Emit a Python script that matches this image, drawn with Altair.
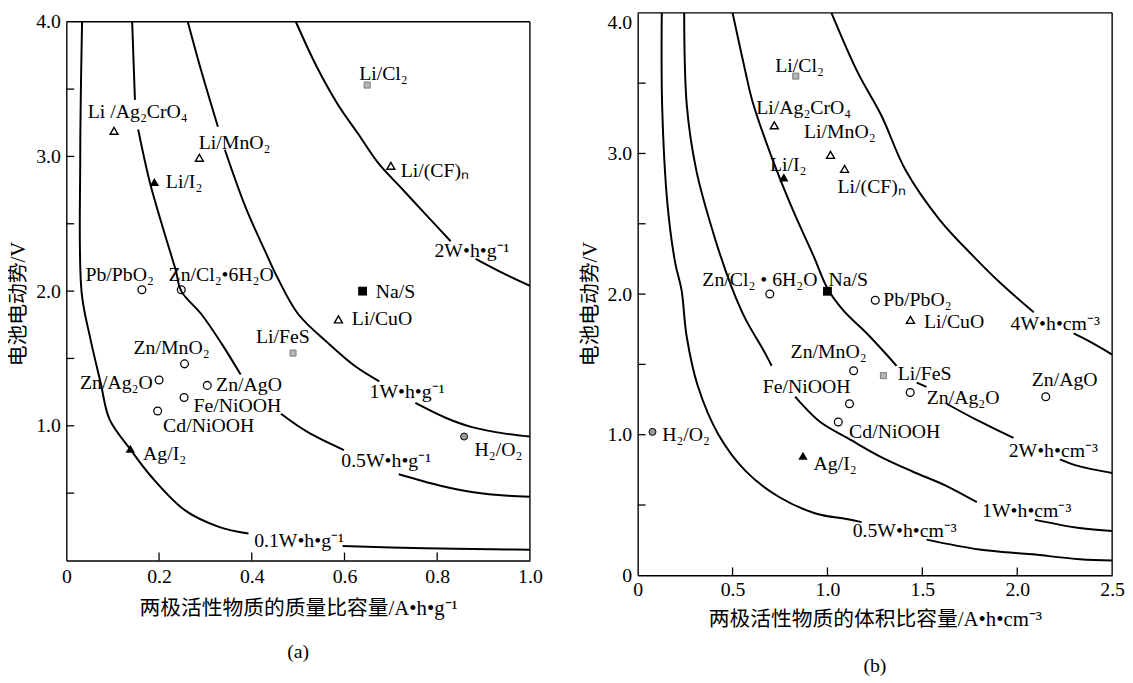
import altair as alt
import pandas as pd

SERIF = "Liberation Serif"
CJK = "Liberation Serif, Noto Sans CJK SC"

# ---------------- panel (a): mass specific capacity ----------------
a_cell = ["Li/Cl₂", "Li /Ag₂CrO₄", "Li/MnO₂", "Li/I₂", "Li/(CF)ₙ", "Pb/PbO₂", "Zn/Cl₂•6H₂O",
          "Na/S", "Li/CuO", "Li/FeS", "Zn/MnO₂", "Zn/Ag₂O", "Zn/AgO", "Fe/NiOOH", "Cd/NiOOH",
          "Ag/I₂", "H₂/O₂"]
a_kind = ["sq_gray", "tri_open", "tri_open", "tri_fill", "tri_open", "circ_open", "circ_open",
          "sq_fill", "tri_open", "sq_gray", "circ_open", "circ_open", "circ_open", "circ_open",
          "circ_open", "tri_fill", "circ_gray"]
a_cap = [0.649, 0.103, 0.287, 0.19, 0.70, 0.163, 0.248, 0.639, 0.587, 0.489, 0.255, 0.20,
         0.304, 0.254, 0.197, 0.138, 0.858]
a_emf = [3.53, 3.19, 2.99, 2.81, 2.93, 2.01, 2.01, 2.0, 1.79, 1.54, 1.46, 1.34, 1.30, 1.21,
         1.11, 0.83, 0.92]
a_lab_x = [0.684, 0.154, 0.363, 0.254, 0.795, 0.115, 0.334, 0.71, 0.681, 0.467, 0.227, 0.108,
           0.394, 0.369, 0.307, 0.212, 0.932]
a_lab_y = [3.61, 3.33, 3.10, 2.81, 2.89, 2.12, 2.12, 1.99, 1.79, 1.66, 1.58, 1.32, 1.30, 1.15,
           1.0, 0.79, 0.82]

a_e01_x = [0.034, 0.030, 0.033, 0.051, 0.074, 0.093, 0.137, 0.184, 0.257, 0.329, 0.393,
           0.596, 0.773, 0.955, 1.0]
a_e01_y = [4.0, 2.98, 1.99, 1.66, 1.32, 1.05, 0.83, 0.62, 0.37, 0.25, 0.20,
           0.107, 0.091, 0.082, 0.08]
a_e01_seg = [1] * 11 + [2] * 4

a_e05_x = [0.142, 0.148, 0.155, 0.18, 0.21, 0.236, 0.248, 0.291, 0.335, 0.376,
           0.463, 0.52, 0.599, 0.717, 0.807, 0.878, 0.953, 1.0]
a_e05_y = [4.0, 3.42, 3.20, 2.81, 2.45, 2.155, 2.0, 1.83, 1.61, 1.38,
           1.09, 0.955, 0.82, 0.64, 0.555, 0.507, 0.48, 0.473]
a_e05_seg = [1] * 2 + [2] * 8 + [3] * 3 + [4] * 5

a_e1_x = [0.262, 0.289, 0.327, 0.342, 0.387, 0.431, 0.454, 0.50, 0.566, 0.624, 0.675,
          0.753, 0.818, 0.875, 0.95, 1.0]
a_e1_y = [4.0, 3.66, 3.22, 3.05, 2.62, 2.28, 2.11, 1.83, 1.61, 1.44, 1.33,
          1.17, 1.06, 0.99, 0.94, 0.92]
a_e1_seg = [1] * 3 + [2] * 8 + [3] * 5

a_e2_x = [0.495, 0.541, 0.585, 0.629, 0.673, 0.724, 0.775, 0.829, 0.883, 0.944, 1.0]
a_e2_y = [4.0, 3.66, 3.39, 3.17, 2.95, 2.76, 2.57, 2.37, 2.24, 2.13, 2.04]
a_e2_seg = [1] * 8 + [2] * 3

a_curve_lab = ["0.1W•h•g⁻¹", "0.5W•h•g⁻¹", "1W•h•g⁻¹", "2W•h•g⁻¹"]
a_curve_lab_x = [0.502, 0.69, 0.735, 0.875]
a_curve_lab_y = [0.146, 0.737, 1.25, 2.30]

a_xticks = [0, 0.2, 0.4, 0.6, 0.8, 1.0]
a_yticks = [1.0, 2.0, 3.0, 4.0]
a_xminor = [0.2, 0.4, 0.6, 0.8]
a_yminor = [0.5, 1.0, 1.5, 2.0, 2.5, 3.0, 3.5]

# ---------------- panel (b): volume specific capacity ----------------
b_cell = ["Li/Cl₂", "Li/Ag₂CrO₄", "Li/MnO₂", "Li/I₂", "Li/(CF)ₙ", "Zn/Cl₂ • 6H₂O", "Na/S",
          "Pb/PbO₂", "Li/CuO", "Zn/MnO₂", "Li/FeS", "Fe/NiOOH", "Zn/Ag₂O", "Zn/AgO",
          "Cd/NiOOH", "H₂/O₂", "Ag/I₂"]
b_kind = ["sq_gray", "tri_open", "tri_open", "tri_fill", "tri_open", "circ_open", "sq_fill",
          "circ_open", "tri_open", "circ_open", "sq_gray", "circ_open", "circ_open", "circ_open",
          "circ_open", "circ_gray", "tri_fill"]
b_cap = [0.833, 0.72, 1.016, 0.77, 1.09, 0.696, 1.0, 1.252, 1.437, 1.138, 1.295, 1.116, 1.436,
         2.15, 1.057, 0.078, 0.871]
b_emf = [3.55, 3.20, 2.99, 2.83, 2.89, 2.0, 2.02, 1.956, 1.816, 1.455, 1.42, 1.22, 1.30, 1.27,
         1.09, 1.02, 0.85]
b_lab_x = [0.853, 0.875, 1.065, 0.793, 1.233, 0.644, 1.11, 1.474, 1.667, 1.006, 1.512, 0.89,
           1.715, 2.25, 1.354, 0.255, 1.04]
b_lab_y = [3.62, 3.32, 3.15, 2.92, 2.76, 2.10, 2.10, 1.956, 1.80, 1.59, 1.43, 1.34, 1.26,
           1.385, 1.02, 1.0, 0.79]

b_e05_x = [0.127, 0.129, 0.157, 0.198, 0.231, 0.258, 0.316, 0.426, 0.568, 0.745, 0.9375, 1.10,
           1.18, 1.522, 1.80, 2.077, 2.33, 2.5]
b_e05_y = [4.0, 3.34, 2.64, 2.22, 2.03, 1.70, 1.35, 1.0, 0.743, 0.557, 0.44, 0.40,
           0.378, 0.254, 0.184, 0.149, 0.114, 0.105]
b_e05_seg = [1] * 13 + [2] * 5

b_e1_x = [0.245, 0.259, 0.309, 0.404, 0.495, 0.569, 0.659, 0.706,
          0.83, 0.856, 0.962, 1.12, 1.27, 1.445, 1.62, 1.787, 2.093, 2.328, 2.5]
b_e1_y = [4.0, 3.34, 2.88, 2.41, 2.05, 1.82, 1.61, 1.49,
          1.27, 1.23, 1.09, 0.965, 0.85, 0.74, 0.64, 0.52, 0.394, 0.336, 0.315]
b_e1_seg = [1] * 8 + [2] * 8 + [3] * 3

b_e2_x = [0.50, 0.568, 0.605, 0.707, 0.817, 0.927, 1.0, 1.08, 1.222, 1.364,
          1.47, 1.522, 1.628, 1.786, 1.98, 2.225, 2.32, 2.5]
b_e2_y = [4.0, 3.58, 3.37, 2.97, 2.60, 2.27, 2.04, 1.89, 1.70, 1.49,
          1.37, 1.34, 1.22, 1.105, 0.977, 0.825, 0.778, 0.727]
b_e2_seg = [1] * 10 + [2] * 2 + [3] * 3 + [4] * 3

b_e4_x = [1.021, 1.158, 1.284, 1.412, 1.59, 1.768, 1.91, 2.087, 2.297, 2.385, 2.5]
b_e4_y = [4.0, 3.58, 3.27, 2.88, 2.53, 2.27, 2.08, 1.87, 1.72, 1.66, 1.57]
b_e4_seg = [1] * 8 + [2] * 3

b_curve_lab = ["0.5W•h•cm⁻³", "1W•h•cm⁻³", "2W•h•cm⁻³", "4W•h•cm⁻³"]
b_curve_lab_x = [1.407, 2.05, 2.19, 2.20]
b_curve_lab_y = [0.315, 0.455, 0.88, 1.79]

b_xticks = [0, 0.5, 1.0, 1.5, 2.0, 2.5]
b_yticks = [0, 1.0, 2.0, 3.0, 4.0]
b_xminor = [0.5, 1.0, 1.5, 2.0]
b_yminor = [0.5, 1.0, 1.5, 2.0, 2.5, 3.0, 3.5]


def curves_frame(curves):
    rows = []
    for name, xs, ys, segs in curves:
        for i, (x, y, s) in enumerate(zip(xs, ys, segs)):
            rows.append({"key": f"{name}-{s}", "i": i, "x": x, "y": y})
    return pd.DataFrame(rows)


MARKS = {
    "tri_open": dict(shape="triangle-up", filled=False, color="black", strokeWidth=1.4, size=65, opacity=1),
    "tri_fill": dict(shape="triangle-up", filled=True, color="black", size=90, opacity=1),
    "circ_open": dict(shape="circle", filled=False, color="black", strokeWidth=1.3, size=62, opacity=1),
    "sq_fill": dict(shape="square", filled=True, color="black", size=80, opacity=1),
    "sq_gray": dict(shape="square", filled=True, fill="#b5b5b5", stroke="#666666", strokeWidth=0.8, size=38, opacity=1),
    "circ_gray": dict(shape="circle", filled=True, fill="#9a9a9a", stroke="black", strokeWidth=1, size=50, opacity=1),
}

LABEL_EXPR = "datum.value == 0 ? '0' : format(datum.value, '.1f')"


def panel(pts, crv, clab, xdom, w, h, top_gap, xvals, yvals, xminor, yminor, xtitle, caption,
          x_lp, x_tp, cap_off, title_y, top_flush):
    xs = alt.Scale(domain=xdom, nice=False, zero=False)
    ys = alt.Scale(domain=[0, 4], range=[h, top_gap], nice=False, zero=False)
    xaxis = alt.Axis(values=xvals, title=xtitle, labelExpr=LABEL_EXPR, ticks=False, tickSize=0,
                     grid=False, labelPadding=x_lp, titlePadding=x_tp, labelFlush=False)
    yopts = dict(values=yvals, title="电池电动势/V", labelExpr=LABEL_EXPR, ticks=False,
                 tickSize=0, grid=False, labelPadding=6, titlePadding=7, labelFlush=False,
                 titleY=title_y)
    if top_flush:
        yopts["labelBaseline"] = {"condition": {"test": "datum.value == 4", "value": "top"},
                                  "value": "middle"}
    yaxis = alt.Axis(**yopts)

    def X(f):
        return alt.X(f, type="quantitative", scale=xs, axis=xaxis)

    def Y(f):
        return alt.Y(f, type="quantitative", scale=ys, axis=yaxis)

    frame = pd.DataFrame({"x0": [xdom[0]], "x1": [xdom[1]], "y0": [0.0], "y1": [4.0]})
    layers = []
    # top and right frame lines of the panel box
    layers.append(
        alt.Chart(frame).mark_rule(color="black", strokeWidth=1.4)
        .encode(x=X("x0"), x2=alt.X2("x1"), y=Y("y1"))
    )
    layers.append(
        alt.Chart(frame).mark_rule(color="black", strokeWidth=1.4)
        .encode(x=X("x1"), y=Y("y0"), y2=alt.Y2("y1"))
    )
    layers.append(
        alt.Chart(crv).mark_line(color="black", strokeWidth=2.0, interpolate="catmull-rom", clip=True)
        .encode(X("x"), Y("y"), detail="key:N", order=alt.Order("i:Q"))
    )
    layers.append(
        alt.Chart(pd.DataFrame({"v": xminor})).mark_rule(color="black", strokeWidth=1.3)
        .encode(x=X("v"), y=alt.value(h), y2=alt.value(h - 8))
    )
    layers.append(
        alt.Chart(pd.DataFrame({"v": yminor})).mark_rule(color="black", strokeWidth=1.3)
        .encode(y=Y("v"), x=alt.value(0), x2=alt.value(8))
    )
    for kind, params in MARKS.items():
        layers.append(
            alt.Chart(pts).transform_filter(alt.datum.kind == kind).mark_point(**params)
            .encode(X("x"), Y("y"))
        )
    layers.append(
        alt.Chart(pts).mark_text(font=SERIF, fontSize=20, color="black", baseline="middle")
        .encode(X("lx"), Y("ly"), text="cell:N")
    )
    layers.append(
        alt.Chart(clab).mark_text(font=SERIF, fontSize=20, color="black", baseline="middle")
        .encode(X("lx"), Y("ly"), text="lab:N")
    )
    return alt.layer(*layers).properties(
        width=w, height=h,
        title=alt.TitleParams(caption, orient="bottom", fontSize=20, font=SERIF,
                              fontWeight="normal", offset=cap_off, anchor="middle"),
    )


a_pts = pd.DataFrame({"cell": a_cell, "kind": a_kind, "x": a_cap, "y": a_emf,
                      "lx": a_lab_x, "ly": a_lab_y})
a_crv = curves_frame([("e01", a_e01_x, a_e01_y, a_e01_seg), ("e05", a_e05_x, a_e05_y, a_e05_seg),
                      ("e1", a_e1_x, a_e1_y, a_e1_seg), ("e2", a_e2_x, a_e2_y, a_e2_seg)])
a_clab = pd.DataFrame({"lab": a_curve_lab, "lx": a_curve_lab_x, "ly": a_curve_lab_y})

b_pts = pd.DataFrame({"cell": b_cell, "kind": b_kind, "x": b_cap, "y": b_emf,
                      "lx": b_lab_x, "ly": b_lab_y})
b_crv = curves_frame([("e05", b_e05_x, b_e05_y, b_e05_seg), ("e1", b_e1_x, b_e1_y, b_e1_seg),
                      ("e2", b_e2_x, b_e2_y, b_e2_seg), ("e4", b_e4_x, b_e4_y, b_e4_seg)])
b_clab = pd.DataFrame({"lab": b_curve_lab, "lx": b_curve_lab_x, "ly": b_curve_lab_y})

chart_a = panel(a_pts, a_crv, a_clab, [0, 1.0], 469, 554, 9, a_xticks, a_yticks, a_xminor,
                a_yminor, "两极活性物质的质量比容量/A•h•g⁻¹", "(a)", 6, 12, 24, 294, False)
chart_b = panel(b_pts, b_crv, b_clab, [0, 2.5], 480, 569, 0, b_xticks, b_yticks, b_xminor,
                b_yminor, "两极活性物质的体积比容量/A•h•cm⁻³", "(b)", 4, 10, 27, 294, True)

chart = (
    alt.hconcat(chart_a, chart_b, spacing=37)
    .properties(padding={"left": 0, "top": 0, "right": 0, "bottom": 0})
    .configure_view(stroke=None)
    .configure_axis(domainColor="black", domainWidth=1.4, labelFont=SERIF, labelFontSize=20,
                    labelColor="black", titleFont=CJK, titleFontSize=21, titleFontWeight="normal",
                    titleColor="black")
)

chart.save("out.html", embed_options={"renderer": "svg", "actions": False})
